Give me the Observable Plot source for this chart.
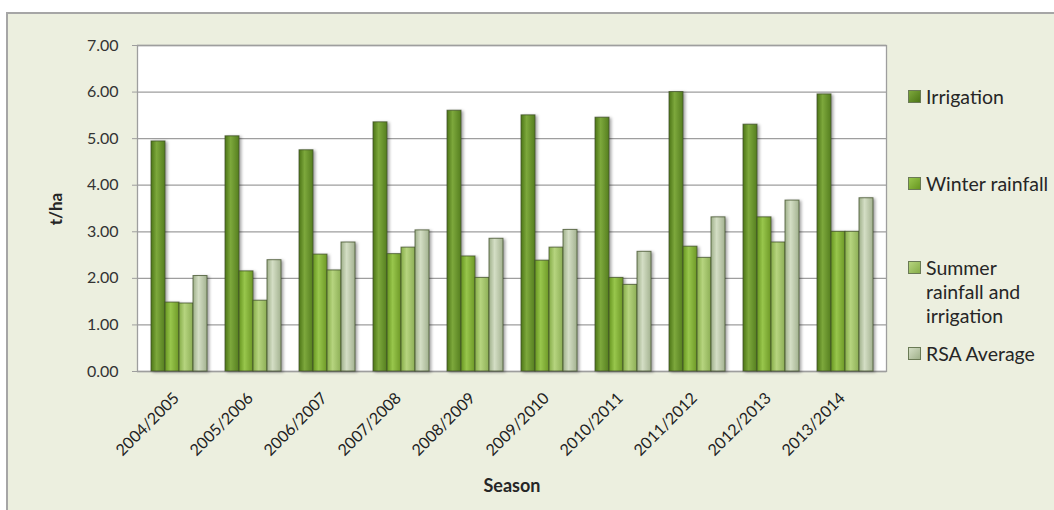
<!DOCTYPE html>
<html>
<head>
<meta charset="utf-8">
<script src="https://cdn.jsdelivr.net/npm/d3@7"></script>
<script src="https://cdn.jsdelivr.net/npm/@observablehq/plot@0.6"></script>
<style>
  html, body { margin: 0; padding: 0; background: #ffffff; width: 1054px; height: 510px; overflow: hidden; font-family: Lato, "Open Sans", sans-serif; }
  #frame { position: absolute; left: 6px; top: 12px; width: 1100px; height: 520px; background: #ECEFDF; border-top: 2px solid #A6A6A6; border-left: 2px solid #A6A6A6; }
  .layer { position: absolute; left: 0; top: 0; }
  .layer svg { background: transparent !important; overflow: visible; }
  .li { position: absolute; left: 908px; font-size: 19.5px; line-height: 24px; color: #262626; }
  .sw { position: absolute; left: 0; top: 5px; width: 13px; height: 13px; border: 1px solid #6a7a55; box-sizing: border-box; }
  .lt { position: absolute; left: 18px; top: 0; white-space: nowrap; }
  #xlabel { position: absolute; left: 512px; top: 485px; transform: translate(-50%, -50%); font-weight: bold; font-size: 18px; color: #262626; }
  #ylabel { position: absolute; left: 55px; top: 209px; transform: translate(-50%, -50%) rotate(-90deg); font-weight: bold; font-size: 17px; color: #262626; }
</style>
</head>
<body>
<div id="frame"></div>
<div id="back" class="layer"></div>
<div id="front" class="layer"></div>
<div id="legend"></div>
<div id="xlabel">Season</div>
<div id="ylabel">t/ha</div>
<script>
const seasons = ["2004/2005","2005/2006","2006/2007","2007/2008","2008/2009","2009/2010","2010/2011","2011/2012","2012/2013","2013/2014"];
const series = ["Irrigation","Winter rainfall","Summer rainfall and irrigation","RSA Average"];
const irrigation     = [4.94, 5.05, 4.75, 5.35, 5.60, 5.50, 5.45, 6.00, 5.30, 5.95];
const winterRainfall = [1.48, 2.15, 2.51, 2.52, 2.47, 2.38, 2.01, 2.68, 3.31, 3.00];
const summerRainfall = [1.46, 1.52, 2.17, 2.66, 2.01, 2.66, 1.86, 2.44, 2.77, 3.00];
const rsaAverage     = [2.05, 2.39, 2.77, 3.03, 2.85, 3.04, 2.57, 3.31, 3.67, 3.72];
const yTicks = [0, 1, 2, 3, 4, 5, 6, 7];

const seriesValues = [irrigation, winterRainfall, summerRainfall, rsaAverage];
const rows = [];
seasons.forEach((s, i) => series.forEach((k, j) => rows.push({season: s, series: k, value: seriesValues[j][i]})));

// gradient stops per series: edge dark, center light, edge dark
const grads = [
  ["#4C7516", "#7DA83C", "#557E1F"],
  ["#679620", "#98C64C", "#6D9826"],
  ["#86AD48", "#B6D47F", "#8CAE55"],
  ["#9FB08A", "#D4DEC5", "#A3B290"]
];
const gradIds = series.map((_, i) => "bargrad" + i);
const gradUrls = gradIds.map(id => `url(#${id})`);

const W = 900, H = 500;
const M = {marginLeft: 137, marginRight: 14, marginTop: 45, marginBottom: 129};

const back = Plot.plot({
  width: W, height: H, ...M,
  y: {domain: [0, 7], axis: null},
  style: {fontFamily: "Lato, 'Open Sans', sans-serif", background: "transparent"},
  marks: [
    Plot.frame({fill: "#ffffff"}),
    Plot.gridY(yTicks, {stroke: "#9E9E9E", strokeOpacity: 1, strokeWidth: 1.3}),
    Plot.axisY(yTicks, {tickFormat: d3.format(".2f"), tickSize: 5, tickPadding: 14, fontSize: 16, label: null, stroke: "#9E9E9E", fill: "#333333"}),
    Plot.frame({stroke: "#9E9E9E", strokeWidth: 1.3})
  ]
});
document.getElementById("back").appendChild(back);

const front = Plot.plot({
  width: W, height: H, ...M,
  fx: {domain: seasons, paddingInner: 0.25, paddingOuter: 0.125, axis: null, label: null},
  x: {domain: series, padding: 0, axis: null},
  y: {domain: [0, 7], axis: null},
  color: {domain: series, range: gradUrls},
  style: {fontFamily: "Lato, 'Open Sans', sans-serif", background: "transparent"},
  marks: [
    Plot.barY(rows, {fx: "season", x: "series", y: "value", fill: "series", stroke: "#3F4F28", strokeOpacity: 0.75, strokeWidth: 1, imageFilter: "drop-shadow(2px 1px 1.5px rgba(0,0,0,0.35))"}),
    Plot.axisFx({anchor: "bottom", tickRotate: -45, tickSize: 0, tickPadding: 24, dx: -3, fontSize: 16, label: null, fill: "#222222"})
  ]
});
document.getElementById("front").appendChild(front);

function addDefs(svg) {
  const defs = d3.select(svg).insert("defs", ":first-child");
  grads.forEach((g, i) => {
    const lg = defs.append("linearGradient").attr("id", gradIds[i]).attr("x1", "0").attr("x2", "1").attr("y1", "0").attr("y2", "0");
    lg.append("stop").attr("offset", "0").attr("stop-color", g[0]);
    lg.append("stop").attr("offset", "0.4").attr("stop-color", g[1]);
    lg.append("stop").attr("offset", "1").attr("stop-color", g[2]);
  });
}
addDefs(front);

// legend
const legend = document.getElementById("legend");
const legendTops = [85, 172, 256, 342];
const legendLines = [["Irrigation"], ["Winter rainfall"], ["Summer", "rainfall and", "irrigation"], ["RSA Average"]];
series.forEach((k, i) => {
  const item = document.createElement("div");
  item.className = "li";
  item.style.top = legendTops[i] + "px";
  const sw = document.createElement("span");
  sw.className = "sw";
  sw.style.background = `linear-gradient(135deg, ${grads[i][1]} 0%, ${grads[i][0]} 100%)`;
  const t = document.createElement("span");
  t.className = "lt";
  t.innerHTML = legendLines[i].join("<br>");
  item.appendChild(sw);
  item.appendChild(t);
  legend.appendChild(item);
});
</script>
</body>
</html>
